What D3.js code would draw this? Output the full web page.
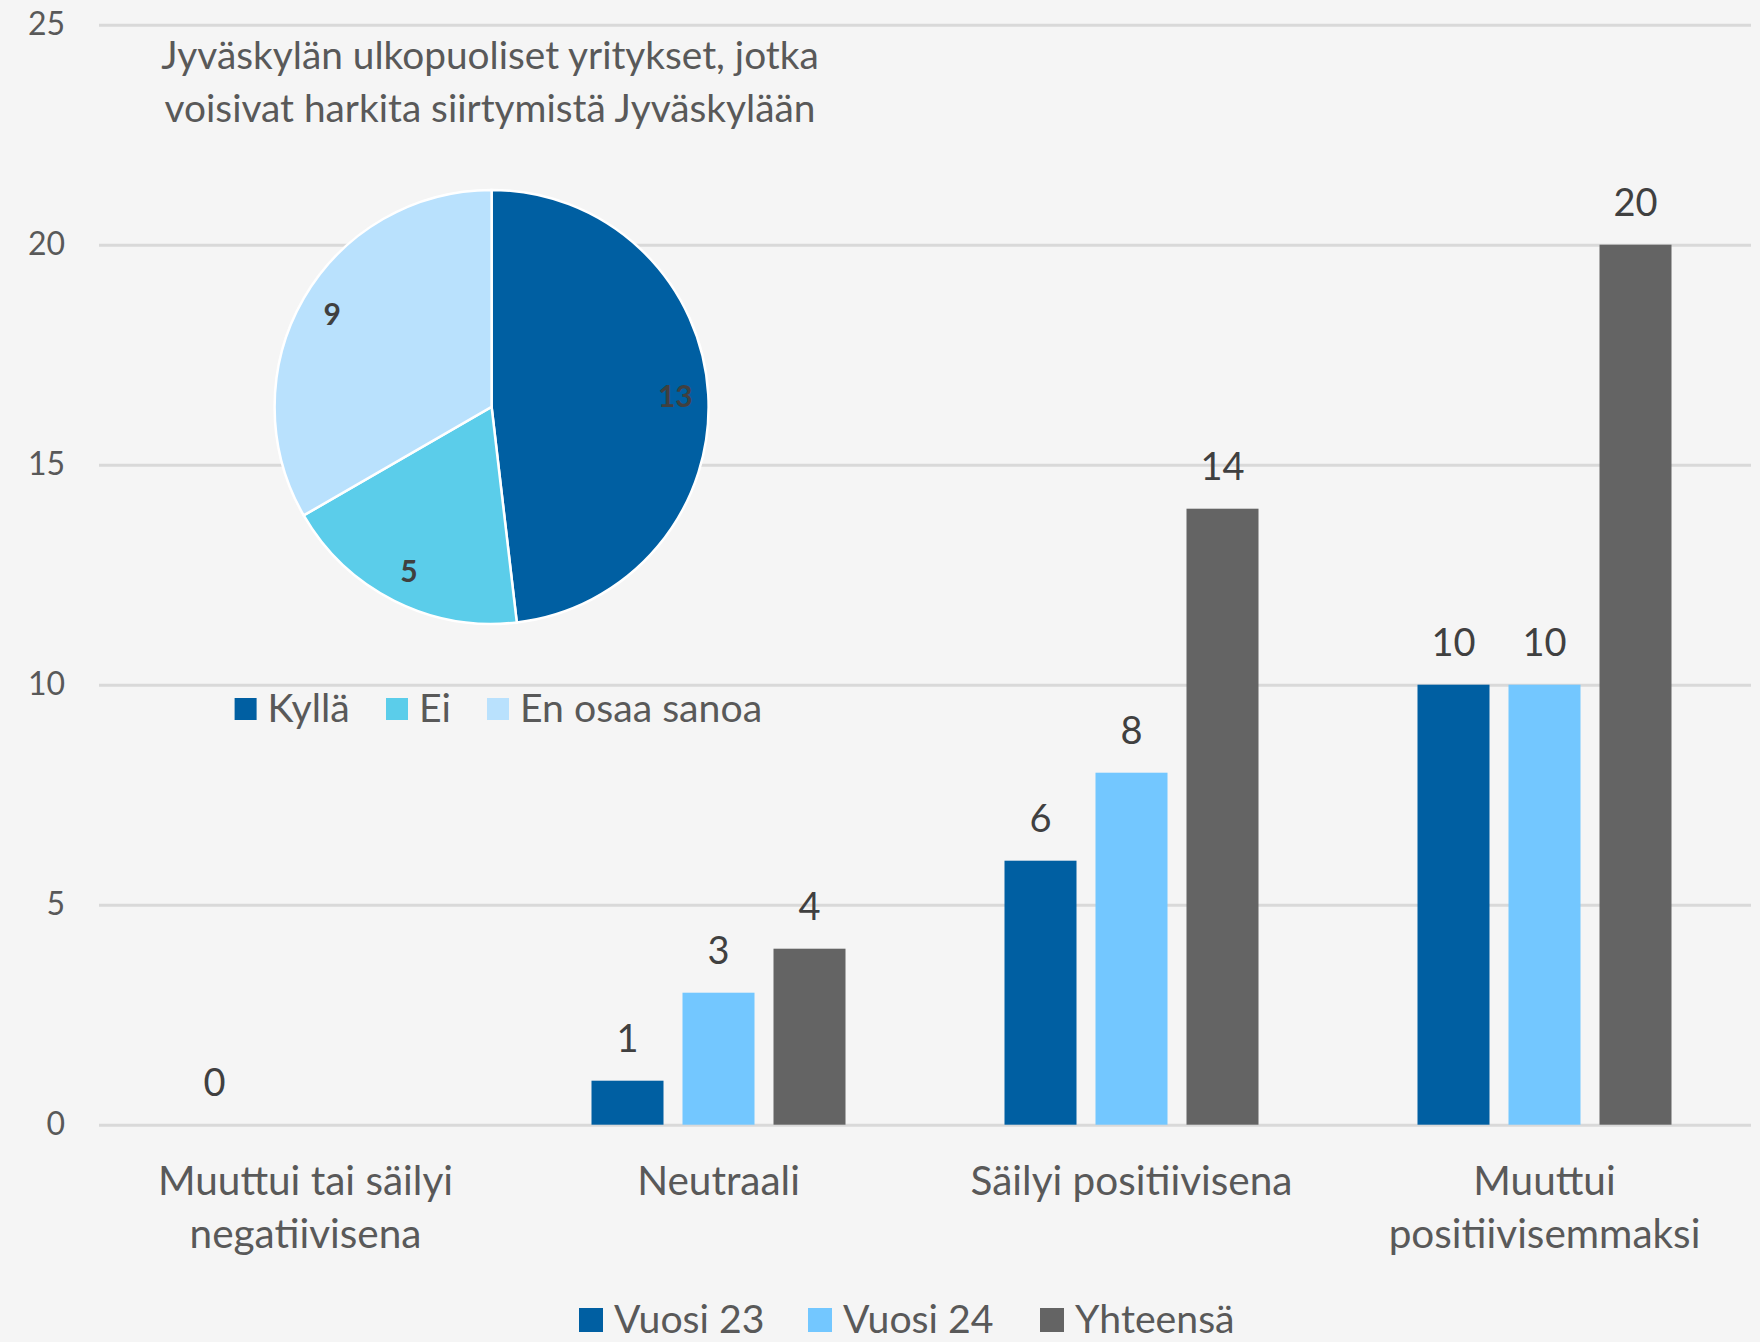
<!DOCTYPE html>
<html><head><meta charset="utf-8">
<script src="https://cdn.jsdelivr.net/npm/d3@7"></script>
<style>body{margin:0;background:#f5f5f5} svg{display:block}</style>
</head><body><svg id="c" width="1760" height="1342"></svg>
<script>
const categories = ["Muuttui tai säilyi\nnegatiivisena", "Neutraali", "Säilyi positiivisena", "Muuttui\npositiivisemmaksi"];
const seriesNames = ["Vuosi 23", "Vuosi 24", "Yhteensä"];
const vuosi23 = [0, 1, 6, 10];
const vuosi24 = [null, 3, 8, 10];
const yhteensa = [null, 4, 14, 20];
const yTicks = [0, 5, 10, 15, 20, 25];
const pieNames = ["Kyllä", "Ei", "En osaa sanoa"];
const pieValues = [13, 5, 9];
const pieTitle = ["Jyväskylän ulkopuoliset yritykset, jotka", "voisivat harkita siirtymistä Jyväskylään"];

const barColors = ["#005FA2", "#73C7FF", "#646464"];
const pieColors = ["#005FA2", "#5BCDEA", "#B9E1FD"];
const FONT = "Lato, 'Open Sans', sans-serif";

const svg = d3.select("#c").style("font-family", FONT);
svg.append("rect").attr("width", 1760).attr("height", 1342).attr("fill", "#f5f5f5");

const pLeft = 99, pRight = 1751, pTop = 24.7, pBottom = 1124.7;
const y = d3.scaleLinear().domain([0, 25]).range([pBottom, pTop]);
const x0 = d3.scaleBand().domain(categories).range([pLeft, pRight]).padding(0);
const x1 = d3.scaleBand().domain(seriesNames).range([-127, 127]).paddingInner(19 / 91).paddingOuter(0);

// gridlines
const yAxis = d3.axisLeft(y).tickValues(yTicks).tickSize(-(pRight - pLeft)).tickPadding(34);
const ga = svg.append("g").attr("transform", `translate(${pLeft},0)`).call(yAxis);
ga.select(".domain").remove();
ga.selectAll(".tick line").attr("stroke", "#D9D9D9").attr("stroke-width", 3);
ga.selectAll(".tick text").attr("fill", "#595959").style("font-size", "32px").style("font-family", FONT);

// bars
const seriesData = [vuosi23, vuosi24, yhteensa];
seriesData.forEach((vals, si) => {
  const g = svg.append("g");
  vals.forEach((v, ci) => {
    if (v === null) return;
    const cx = x0(categories[ci]) + x0.bandwidth() / 2;
    const bx = cx + x1(seriesNames[si]);
    g.append("rect").attr("x", bx).attr("y", y(v)).attr("width", x1.bandwidth())
      .attr("height", y(0) - y(v)).attr("fill", barColors[si]);
    g.append("text").attr("x", bx + x1.bandwidth() / 2).attr("y", y(v) - 29)
      .attr("text-anchor", "middle").attr("fill", "#404040").style("font-size", "38px").text(v);
  });
});

// category labels
categories.forEach(c => {
  const lines = c.split("\n");
  const t = svg.append("text").attr("text-anchor", "middle").attr("fill", "#595959").style("font-size", "40.5px");
  lines.forEach((l, i) => {
    t.append("tspan").attr("x", x0(c) + x0.bandwidth() / 2).attr("y", 1195 + i * 53).text(l);
  });
});

// bottom legend
const legX = [579, 808, 1040];
seriesNames.forEach((s, i) => {
  svg.append("rect").attr("x", legX[i]).attr("y", 1308).attr("width", 24).attr("height", 24).attr("fill", barColors[i]);
  svg.append("text").attr("x", legX[i] + 35).attr("y", 1333).attr("fill", "#595959").style("font-size", "39.2px").text(s);
});

// pie title
pieTitle.forEach((l, i) => {
  svg.append("text").attr("x", 490).attr("y", 69 + i * 53).attr("text-anchor", "middle")
    .attr("fill", "#595959").style("font-size", "38.8px").text(l);
});

// pie
const pcx = 491.6, pcy = 406.9, R = 217;
const pie = d3.pie().sort(null).value(d => d)(pieValues);
const arc = d3.arc().innerRadius(0).outerRadius(R);
const labelArc = d3.arc().innerRadius(184).outerRadius(184);
const pg = svg.append("g").attr("transform", `translate(${pcx},${pcy})`);
pg.selectAll("path").data(pie).join("path").attr("d", arc)
  .attr("fill", (d, i) => pieColors[i]).attr("stroke", "#ffffff").attr("stroke-width", 2.5);
pg.selectAll("text").data(pie).join("text")
  .attr("transform", d => `translate(${labelArc.centroid(d)})`)
  .attr("text-anchor", "middle").attr("dy", "0.35em")
  .attr("fill", "#404040").style("font-size", "30px").style("font-weight", "bold")
  .text(d => d.value);

// pie legend
const pLegX = [234.6, 386, 487];
pieNames.forEach((n, i) => {
  svg.append("rect").attr("x", pLegX[i]).attr("y", 698).attr("width", 22).attr("height", 22).attr("fill", pieColors[i]);
  svg.append("text").attr("x", pLegX[i] + 33).attr("y", 722).attr("fill", "#595959").style("font-size", "39.2px").text(n);
});
</script></body></html>
